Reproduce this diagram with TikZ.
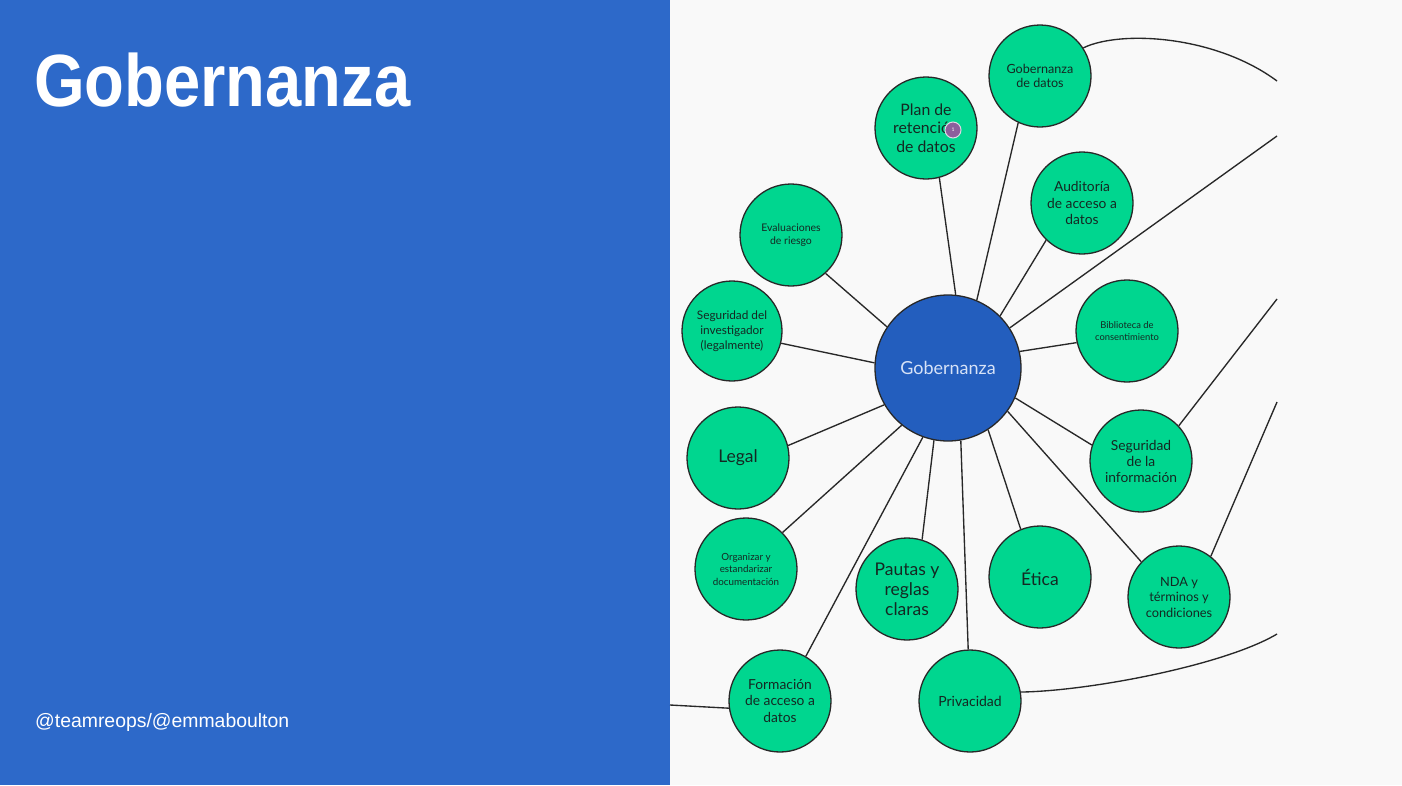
\documentclass[tikz,border=0pt]{standalone}
\usepackage{fontspec}
\setmainfont{Lato}
\newfontfamily\titlefont{Liberation Sans}
\pgfdeclarelayer{bg}
\pgfsetlayers{bg,main}
\definecolor{panelblue}{RGB}{45,105,201}
\definecolor{paper}{RGB}{249,249,249}
\definecolor{leaf}{RGB}{0,214,143}
\definecolor{hub}{RGB}{35,94,190}
\definecolor{hubtext}{RGB}{214,226,247}
\definecolor{ink}{RGB}{40,40,40}
\definecolor{leaftext}{RGB}{20,40,34}
\definecolor{badgecol}{RGB}{140,94,156}
\begin{document}
\begin{tikzpicture}[x=1pt,y=-1pt,
  leafnode/.style={circle,draw=ink,line width=1.3pt,fill=leaf,minimum size=102pt,inner sep=0pt,align=center,text=leaftext},
  hubnode/.style={circle,draw=ink,line width=1.3pt,fill=hub,minimum size=146pt,inner sep=0pt,text=hubtext,font=\fontsize{18}{21}\selectfont},
  link/.style={draw=ink,line width=1.35pt}
]
\useasboundingbox (0,0) rectangle (1402,785);
\begin{pgfonlayer}{bg}
\fill[paper] (670,0) rectangle (1402,785);
\fill[panelblue] (0,0) rectangle (670,785);
\end{pgfonlayer}

% title and footer
\node[anchor=base west,inner sep=0pt,text=white,font=\titlefont\bfseries\fontsize{74}{80}\selectfont] (title) at (34,106) {\scalebox{0.88}[1]{Gobernanza}};
\node[anchor=base west,inner sep=0pt,text=white,font=\titlefont\fontsize{19.4}{22}\selectfont] (footer) at (35,727) {@teamreops/@emmaboulton};

% hub
\node[hubnode] (hub) at (948,368) {Gobernanza};

% leaves
\node[leafnode,font=\fontsize{15.8}{18.5}\selectfont] (plan) at (926,128) {Plan de\\retención\\de datos};
\node[leafnode,font=\fontsize{12.6}{14.5}\selectfont] (gd) at (1040,76) {Gobernanza\\de datos};
\node[leafnode,font=\fontsize{13.8}{16.5}\selectfont] (aud) at (1082,203) {Auditoría\\de acceso a\\datos};
\node[leafnode,font=\fontsize{10.5}{13.5}\selectfont] (eval) at (791,235) {Evaluaciones\\de riesgo};
\node[leafnode,font=\fontsize{11.8}{15}\selectfont,minimum size=100pt] (inv) at (732,331) {Seguridad del\\investigador\\(legalmente)};
\node[leafnode,font=\fontsize{9.4}{12.5}\selectfont] (bib) at (1127,331) {Biblioteca de\\consentimiento};
\node[leafnode,font=\fontsize{13.8}{16}\selectfont] (seginf) at (1141,461) {Seguridad\\de la\\información};
\node[leafnode,font=\fontsize{17.5}{20}\selectfont] (legal) at (738,458) {Legal};
\node[leafnode,font=\fontsize{9.8}{12.5}\selectfont] (org) at (746,569) {Organizar y\\estandarizar\\documentación};
\node[leafnode,font=\fontsize{17.5}{20}\selectfont] (pautas) at (907,589) {Pautas y\\reglas\\claras};
\node[leafnode,font=\fontsize{17.5}{20}\selectfont] (etica) at (1040,577) {Ética};
\node[leafnode,font=\fontsize{12.8}{15.5}\selectfont] (nda) at (1179,597) {NDA y\\términos y\\condiciones};
\node[leafnode,font=\fontsize{13.8}{16.5}\selectfont] (form) at (780,701) {Formación\\de acceso a\\datos};
\node[leafnode,font=\fontsize{14}{16}\selectfont] (priv) at (970,701) {Privacidad};

% badge
\node[circle,fill=badgecol,draw=white!75!badgecol,line width=1pt,minimum size=16pt,inner sep=0pt,text=white,font=\fontsize{5}{5}\selectfont] (badge) at (953,130) {1};

% free ends at the cut edges
\coordinate (e1) at (1277,81);
\coordinate (e2) at (1277,136);
\coordinate (e3) at (1277,299);
\coordinate (e4) at (1277,402);
\coordinate (e5) at (1277,634);
\coordinate (e6) at (670,705);

\begin{pgfonlayer}{bg}
\draw[link] (hub.84.5) -- (plan.-75.4);
\draw[link] (hub.67.5) -- (gd.-115);
\draw[link] (hub.45.5) -- (aud.-134);
\draw[link] (hub.33) -- (e2);
\draw[link] (hub.13) -- (bib.-167);
\draw[link] (hub.-24) -- (seginf.162);
\draw[link] (hub.-36) -- (nda.137);
\draw[link] (hub.-57) -- (etica.112);
\draw[link] (hub.-80.5) -- (priv.92);
\draw[link] (hub.-101) -- (pautas.73);
\draw[link] (hub.-110) -- (form.60);
\draw[link] (hub.-129) -- (org.45);
\draw[link] (hub.-150) -- (legal.14);
\draw[link] (hub.176) -- (inv.-14.6);
\draw[link] (hub.146.5) -- (eval.-48);
\draw[link] (gd.33) .. controls (1120,30) and (1215,35) .. (e1);
\draw[link] (seginf.43.5) -- (e3);
\draw[link] (nda.52) -- (e4);
\draw[link] (priv.10) .. controls (1090,691) and (1225,665) .. (e5);
\draw[link] (form.188) -- (e6);
\end{pgfonlayer}
\end{tikzpicture}
\end{document}
